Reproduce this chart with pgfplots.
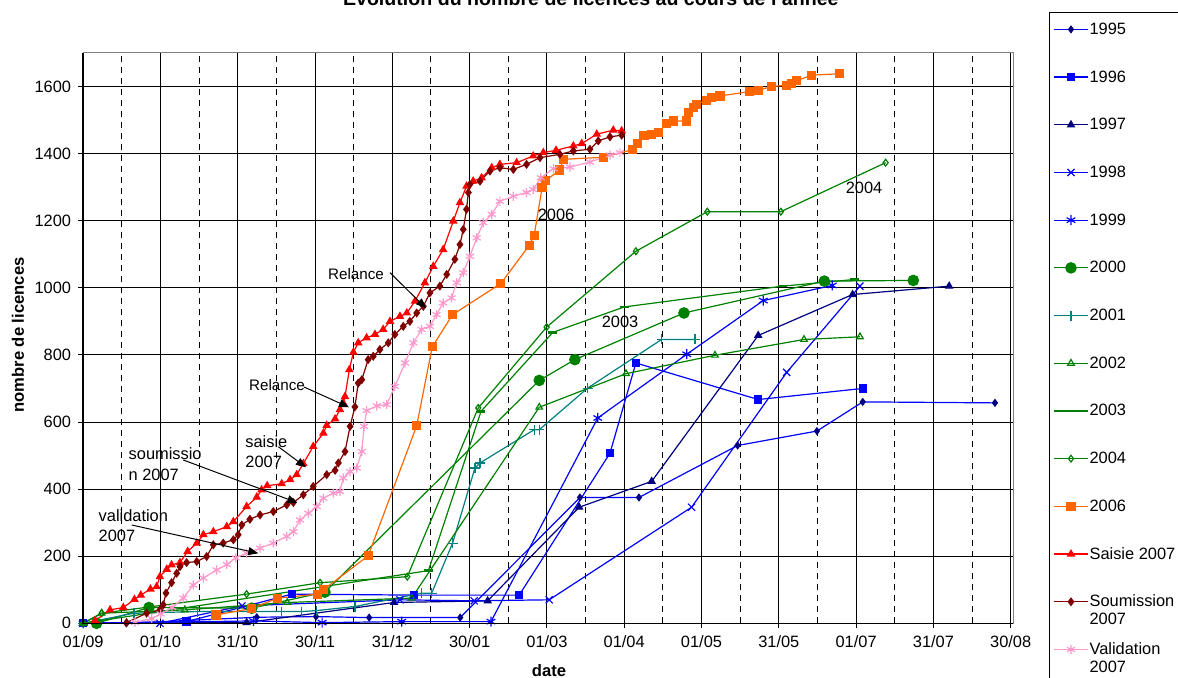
\documentclass[border=0pt]{standalone}
\usepackage{pgfplots}
\pgfplotsset{compat=1.18}
\usepackage{fontspec}
\setmainfont{Liberation Sans}
\usetikzlibrary{arrows.meta}

\definecolor{xnavy}{RGB}{0,0,128}
\definecolor{xblue}{RGB}{0,0,255}
\definecolor{xgreen}{RGB}{0,128,0}
\definecolor{xteal}{RGB}{0,128,128}
\definecolor{xorange}{RGB}{255,102,0}
\definecolor{xred}{RGB}{255,0,0}
\definecolor{xdarkred}{RGB}{128,0,0}
\definecolor{xpink}{RGB}{255,153,204}

\newcommand{\fs}{\fontsize{8.2}{10}\selectfont}
\newcommand{\twolines}[2]{\smash{\begin{tabular}[t]{@{}l@{}}#1\\#2\end{tabular}}}

\begin{document}
\begin{tikzpicture}
\begin{axis}[
    at={(41.55pt,27.35pt)}, anchor=south west,
    scale only axis,
    width=464.95pt, height=285.15pt,
    xmin=0, xmax=365.7, ymin=0, ymax=1700,
    clip=false,
    axis line style={draw=gray, line width=0.5pt},
    xtick={0,30.4,60.8,91.2,121.6,152,182.4,212.8,243.2,273.6,304,334.4,364.8},
    xticklabels={01/09,01/10,31/10,30/11,31/12,30/01,01/03,01/04,01/05,31/05,01/07,31/07,30/08},
    minor xtick={15.2,45.6,76,106.4,136.8,167.2,197.6,228,258.4,288.8,319.2,349.6},
    ytick={0,200,...,1600},
    xmajorgrids, ymajorgrids, xminorgrids,
    major grid style={black, line width=0.5pt},
    minor grid style={black, line width=0.5pt, dash pattern=on 3pt off 2.5pt},
    tick align=outside, major tick length=2.5pt, minor tick length=0pt,
    tick style={black, line width=0.5pt},
    xtick pos=bottom, ytick pos=left,
    /pgf/number format/assume math mode=true,
    /pgf/number format/set thousands separator={},
    ticklabel style={font=\fs},
    every axis title/.style={at={(axis description cs:0.546,1.0825)}, anchor=base, font=\fontsize{9.8}{11}\selectfont\bfseries},
    title={Evolution du nombre de licences au cours de l'année},
    every axis x label/.style={at={(axis description cs:0.501,-0.0836)}, anchor=center, font=\fontsize{8.3}{10}\selectfont\bfseries},
    xlabel={date},
    every axis y label/.style={at={(axis description cs:-0.070,0.5055)}, rotate=90, anchor=center, font=\fontsize{8.3}{10}\selectfont\bfseries},
    ylabel={nombre de licences},
    every axis plot/.append style={line width=0.6pt},
    legend image code/.code={\draw[mark repeat=2,mark phase=2] plot coordinates {(0pt,0pt) (8.5pt,0pt) (17pt,0pt)};},
    legend cell align=left,
    legend style={at={(axis description cs:1.0387,1.0719)}, anchor=north west,
        draw=black, fill=white, font=\fontsize{8.2}{8.8}\selectfont,
        row sep=15.85pt, inner xsep=2pt, inner ysep=4.5pt,
        nodes={inner sep=0.5pt, text height=6pt, text depth=1pt}},
    after end axis/.code={
        \draw[black, line width=0.75pt] (rel axis cs:0,1) -- (rel axis cs:0,0) -- (rel axis cs:1,0);
    },
]

% 1995
\addplot[color=xblue, mark=diamond*, mark size=1.6pt, mark options={draw=xnavy, fill=xnavy}] coordinates {
(0,0) (17,0) (68.3,18) (91.6,20) (112.5,17) (148.3,17) (195.4,375) (218.6,375)
(257.4,530) (288.6,573) (306.6,660) (358.6,657)};
\addlegendentry{1995}
% 1996
\addplot[color=xblue, mark=square*, mark size=1.8pt] coordinates {
(0,0) (40.7,5) (82.1,87) (130.2,84) (171.5,84) (207.2,507) (217.4,776) (265.5,667) (306.6,700)};
\addlegendentry{1996}
% 1997
\addplot[color=xnavy, mark=triangle*, mark size=1.9pt] coordinates {
(0,0) (64.3,2) (122.3,62) (159.1,67) (195.1,346) (223.6,423) (265.5,858) (302.6,980) (340.6,1005)};
\addlegendentry{1997}
% 1998
\addplot[color=xblue, mark=x, mark size=2.5pt] coordinates {
(0,0) (30.2,0) (62.5,52) (124.6,70) (153.8,67) (183.3,70) (239.3,346) (276.7,748) (305.5,1005)};
\addlegendentry{1998}
% 1999
\addplot[color=xblue, mark=asterisk, mark size=2.5pt] coordinates {
(0,0) (67,7) (94,2) (125.3,5) (160.4,5) (202.4,612) (237.4,802) (267.5,962) (294.6,1007)};
\addlegendentry{1999}
% 2000
\addplot[color=xgreen, mark=*, mark size=2.6pt] coordinates {
(5.3,0) (25.9,47) (66.3,45) (95.1,93) (179.4,724) (193.4,786) (236.3,925) (291.5,1020) (326.5,1022)};
\addlegendentry{2000}
% 2001
\addplot[color=xteal, mark=+, mark size=2.5pt] coordinates {
(0,0) (20,30) (45,35) (78.1,35) (86,35) (91.9,38) (106.9,50) (133.1,90) (137.1,90)
(145.3,239) (154.1,463) (156.1,478) (177.4,577) (179.4,577) (198.4,701) (227.5,846) (240.6,846)};
\addlegendentry{2001}
% 2002
\addplot[color=xgreen, mark=triangle, mark size=1.9pt, mark options={fill=white}] coordinates {
(0,0) (7.3,30) (40,40) (80.3,62) (129.2,75) (179.4,644) (213.5,744) (248.5,799) (283.5,846) (305.5,854)};
\addlegendentry{2002}
% 2003
\addplot[color=xgreen, mark=-, mark size=2.2pt, mark options={line width=1.3pt}] coordinates {
(0,0) (135.8,157) (156.5,632) (184.7,867) (212.8,943) (275.1,1005) (303.5,1025)};
\addlegendentry{2003}
% 2004
\addplot[color=xgreen, mark=diamond, mark size=1.7pt, mark options={fill=white}] coordinates {
(0,0) (7.3,30) (64.3,87) (93.2,121) (127.5,139) (155.4,642) (182.3,883) (217.4,1109)
(245.5,1227) (274.4,1227) (315.6,1373)};
\addlegendentry{2004}
% 2006
\addplot[color=xorange, mark=square*, mark size=2pt] coordinates {
(52.3,25) (66.3,44) (76.4,75) (92.3,87) (94.5,100) (112.1,201) (131.2,589) (137.3,824)
(145.3,920) (164.3,1013) (175.5,1127) (177.4,1157) (180.5,1298) (182,1320) (187.5,1351)
(188.8,1383) (204.5,1389) (216.2,1412) (217.9,1430) (220.6,1453) (223.6,1458) (226.2,1463)
(229.5,1490) (232.1,1497) (237.4,1497) (238,1522) (240,1537) (241.3,1547) (245.2,1559)
(247.2,1567) (250.5,1572) (262.2,1585) (265.5,1589) (270.8,1600) (276.7,1604) (278.6,1609)
(280.6,1617) (286.5,1634) (297.4,1638)};
\addlegendentry{2006}
% Saisie 2007
\addplot[color=xred, mark=triangle*, mark size=1.9pt] coordinates {
(4.7,8) (10.6,40) (15.8,47) (20.2,71) (22.7,84) (26.5,102) (28.9,109) (30.2,139) (32.9,161)
(34.8,174) (38.1,181) (41.1,214) (44.7,239) (47.3,264) (51.2,273) (56.5,288) (59.1,303)
(64.3,348) (68.3,376) (70.2,398) (72.4,410) (78.1,416) (81.4,428) (84,443) (86.6,476)
(90.5,527) (94.5,567) (95.8,590) (99.1,609) (101,637) (102.3,657) (103,676) (104.7,756)
(106.3,808) (108.2,836) (111.5,851) (114.8,861) (118,876) (120.7,900) (124.6,915) (127.3,925)
(130.5,960) (134.4,1015) (137.7,1064) (141.6,1114) (145.6,1199) (148.2,1254) (150.8,1303)
(153.4,1318) (156.7,1328) (160.7,1358) (163.9,1368) (170.5,1373) (177,1393) (181,1403)
(186,1410) (192.8,1423) (196.1,1430) (202,1458) (208.5,1470) (211.8,1468)};
\addlegendentry{Saisie 2007}
% Soumission 2007
\addplot[color=xdarkred, mark=diamond*, mark size=1.8pt] coordinates {
(17.1,2) (25,30) (30.2,40) (31.5,55) (32.6,90) (34.8,121) (36.8,149) (38.1,169) (40.7,181)
(44.7,184) (48.6,199) (51.2,234) (55.1,239) (59.1,249) (61,264) (62.4,293) (65.6,310)
(69.6,323) (74.8,333) (80.1,353) (82.7,360) (86.6,383) (90.5,408) (95.8,443) (99.1,456)
(100.4,478) (103,512) (105,587) (106.9,645) (108.2,716) (109.6,726) (112.1,786) (114.1,796)
(116.7,816) (120,836) (122.6,861) (125.9,885) (128.5,900) (131.2,925) (133.8,945) (136.4,985)
(140.3,1005) (143,1040) (146.2,1085) (148.2,1129) (149.5,1174) (150.8,1234) (151.5,1284)
(152.1,1308) (156.1,1318) (160,1348) (163.9,1358) (169.2,1353) (174.4,1368) (179.7,1388)
(187.5,1398) (192.8,1408) (199.3,1413) (202.6,1438) (207.2,1450) (211.8,1455)};
\addlegendentry{\twolines{Soumission}{2007}}
% Validation 2007
\addplot[color=xpink, mark=asterisk, mark size=2.3pt] coordinates {
(20.4,3) (27,14) (30.5,28) (35,47) (39.4,75) (43.3,114) (47.3,135) (52.5,159) (56.5,175)
(60,195) (64.3,209) (69.6,224) (74.8,239) (80.1,259) (82.7,273) (85.3,308) (88.6,328)
(91.9,348) (94.5,373) (98.4,388) (101,393) (102.3,433) (105,452) (107.6,463) (109.6,512)
(110.5,587) (111.5,634) (115.5,648) (119.4,652) (122.6,706) (126.6,776) (129.9,836)
(133.1,876) (136.4,885) (139,920) (141.6,955) (144.9,970) (146.9,1015) (149.5,1045)
(152.1,1094) (154.8,1149) (157.4,1194) (160.7,1219) (163.9,1258) (169.2,1273) (174.4,1284)
(177,1293) (180,1328) (185,1355) (191.5,1360) (199.3,1375) (207.2,1396) (211.1,1403)};
\addlegendentry{\twolines{Validation}{2007}}
\addlegendimage{empty legend}
\addlegendentry{}
\end{axis}

% annotations, in pixel units of the reference
\begin{scope}[x=0.5pt, y=-0.5pt, shift={(0pt,339pt)}, every node/.style={inner sep=0pt, font=\fs},
    ann/.style={-{Triangle[length=5pt,width=4pt]}, line width=0.5pt, black}]
  \node[font=\fontsize{7.6}{9}\selectfont] at (356,274) {Relance};
  \draw[ann] (390,272.7) -- (426,308.3);
  \node[font=\fontsize{7.6}{9}\selectfont] at (277,385) {Relance};
  \draw[ann] (304,387) -- (349,407.3);
  \node[anchor=base west] at (245,447.6) {saisie};
  \node[anchor=base west] at (245,467.6) {2007};
  \draw[ann] (278.3,446.7) -- (306,467.3);
  \node[anchor=base west] at (128.3,459.9) {soumissio};
  \node[anchor=base west] at (128.3,480.2) {n 2007};
  \draw[ann] (183.3,460) -- (297.3,502.7);
  \node[anchor=base west] at (98.3,521.9) {validation};
  \node[anchor=base west] at (98.3,541.9) {2007};
  \draw[ann] (131.7,525) -- (258.3,553.3);
  \node at (556,215) {2006};
  \node at (620,322) {2003};
  \node at (864,188) {2004};
\end{scope}
\pgfresetboundingbox
\useasboundingbox (0pt,0pt) rectangle (589pt,339pt);
\end{tikzpicture}
\end{document}
